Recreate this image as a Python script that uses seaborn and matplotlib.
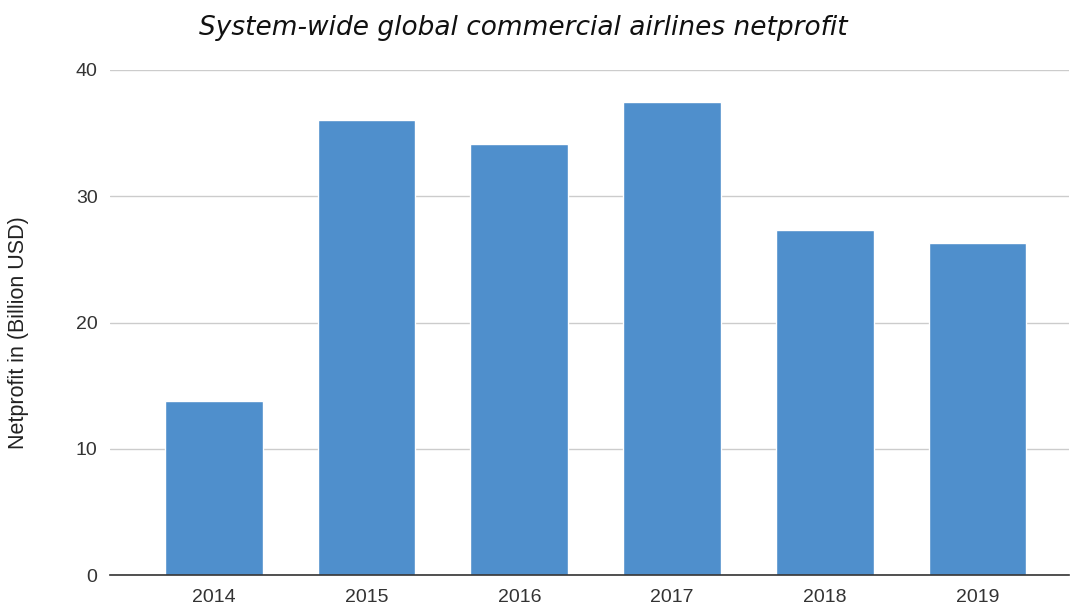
import matplotlib
matplotlib.use("Agg")
import matplotlib.pyplot as plt
import seaborn as sns
import pandas as pd

years = ["2014", "2015", "2016", "2017", "2018", "2019"]
netprofit = [13.8, 36.0, 34.1, 37.5, 27.3, 26.3]
yticks = [0, 10, 20, 30, 40]

sns.set_style("white")
plt.rcParams['font.family'] = ['Liberation Sans', 'DejaVu Sans']

df = pd.DataFrame({"year": years, "netprofit": netprofit})

fig = plt.figure(figsize=(10.71, 6.05), dpi=100)
ax = fig.add_axes([110/1071, 1-575/605, (1069-110)/1071, (575-70)/605])
sns.barplot(data=df, x="year", y="netprofit", color="#4f8fcc", saturation=1,
            width=0.64, ax=ax, zorder=3)
ax.set_xlim(-0.68, 5.6)
ax.set_ylim(0, 40)
ax.set_yticks(yticks)
ax.yaxis.grid(True, color="#cccccc", linewidth=1, zorder=0)
ax.set_axisbelow(True)
for s in ["top", "right", "left"]:
    ax.spines[s].set_visible(False)
ax.spines["bottom"].set_color("#333333")
ax.spines["bottom"].set_linewidth(1.2)
ax.spines["bottom"].set_zorder(4)
ax.tick_params(axis="both", length=0, labelsize=14, labelcolor="#333333")
ax.tick_params(axis="y", pad=9)
ax.tick_params(axis="x", pad=10)
ax.set_xlabel("")
ax.set_ylabel("Netprofit in (Billion USD)", fontsize=15.5, color="#222222")
ax.yaxis.set_label_coords(-(110-29)/959, 0.48)
fig.text(523/1071, 1-28/605, "System-wide global commercial airlines netprofit",
         ha="center", va="center", fontsize=19, style="italic",
         family=["DejaVu Sans"], color="#111111")
fig.savefig("out.png", dpi=100)
